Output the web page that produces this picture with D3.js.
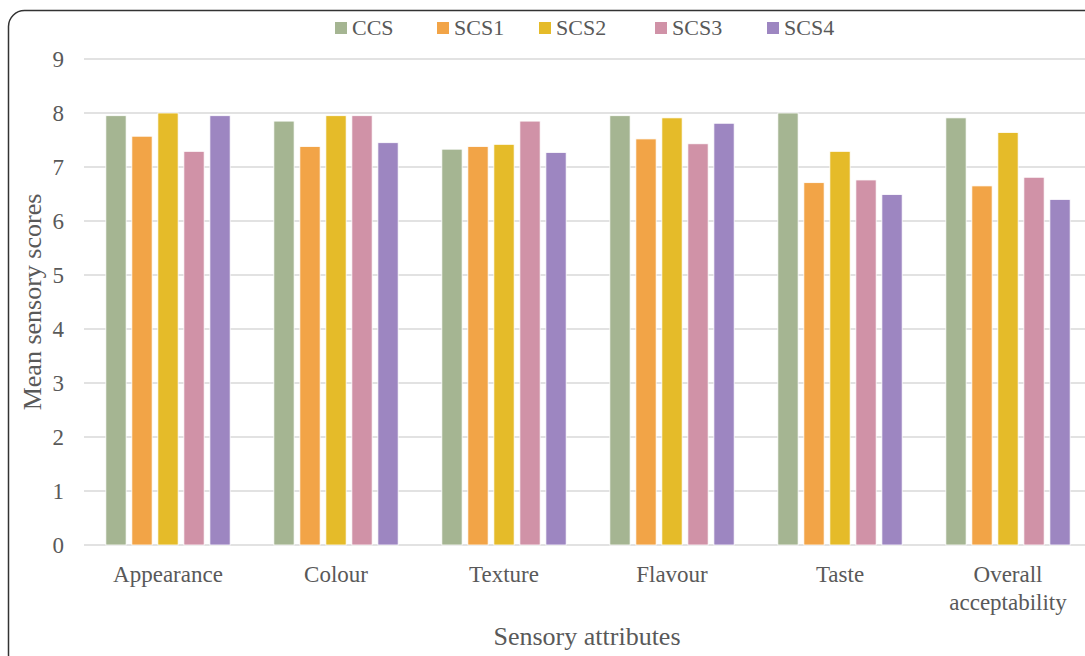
<!DOCTYPE html>
<html><head><meta charset="utf-8">
<script src="https://cdn.jsdelivr.net/npm/d3@7"></script>
<style>body{margin:0;background:#fff;}svg{display:block;} text{font-family:"Liberation Serif","Times New Roman",serif;}</style>
</head><body>
<svg id="c" width="1085" height="656"></svg>
<script>
const categories = ["Appearance","Colour","Texture","Flavour","Taste","Overall acceptability"];
const series = ["CCS","SCS1","SCS2","SCS3","SCS4"];
const CCS  = [7.95, 7.85, 7.33, 7.95, 8.00, 7.91];
const SCS1 = [7.57, 7.38, 7.38, 7.52, 6.71, 6.65];
const SCS2 = [8.00, 7.95, 7.42, 7.91, 7.29, 7.64];
const SCS3 = [7.29, 7.95, 7.85, 7.43, 6.76, 6.81];
const SCS4 = [7.95, 7.45, 7.27, 7.81, 6.49, 6.40];
const yTicks = [0,1,2,3,4,5,6,7,8,9];
const colors = ["#A5B592","#F2A447","#E5BB29","#D092A7","#9D86C1"];
const values = [CCS, SCS1, SCS2, SCS3, SCS4];

(function(){
const svg = d3.select("#c");
const pL = 84, pR = 1092, pT = 59, pB = 545;
const FONT = "Liberation Serif";
const TXT = "#595959";

svg.append("rect").attr("x",8.5).attr("y",10.5).attr("width",1120).attr("height",660)
  .attr("rx",16).attr("fill","#fff").attr("stroke","#333").attr("stroke-width",1.5);

const y = d3.scaleLinear().domain([0,9]).range([pB, pT]);
const x0 = d3.scaleBand().domain(categories).range([pL,pR]).paddingInner(0.26).paddingOuter(0.13);
const x1 = d3.scaleBand().domain(series).range([0,x0.bandwidth()]).paddingInner(0.22);

// gridlines
svg.append("g").selectAll("line").data(yTicks).join("line")
  .attr("x1",pL).attr("x2",pR).attr("y1",d=>y(d)).attr("y2",d=>y(d))
  .attr("stroke","#d9d9d9").attr("stroke-width",1.5);

// y axis labels
const yAxis = d3.axisLeft(y).tickValues(yTicks).tickSize(0).tickPadding(0).tickFormat(d3.format("d"));
const yg = svg.append("g").attr("transform",`translate(${pL-20},0)`).call(yAxis)
  .attr("font-family",FONT);
yg.select(".domain").remove();
yg.selectAll("text").attr("font-size",23).attr("fill",TXT).attr("font-family",FONT).attr("dy","0.33em");

// bars
const g = svg.append("g");
categories.forEach((c,i)=>{
  series.forEach((s,j)=>{
    g.append("rect")
      .attr("x", x0(c)+x1(s))
      .attr("y", y(values[j][i]))
      .attr("width", x1.bandwidth())
      .attr("height", y(0)-y(values[j][i]))
      .attr("fill", colors[j])
      .attr("stroke","#fff").attr("stroke-width",0.8);
  });
});

// x axis labels
categories.forEach(c=>{
  const words = c === "Overall acceptability" ? ["Overall","acceptability"] : [c];
  const cx = x0(c)+x0.bandwidth()/2;
  const t = svg.append("text").attr("x", cx).attr("y",582)
    .attr("text-anchor","middle").attr("font-size",23).attr("font-family",FONT).attr("fill",TXT);
  words.forEach((w,k)=>t.append("tspan").attr("x",cx).attr("dy",k?28:0).text(w));
});

// axis titles
svg.append("text").attr("x",587).attr("y",645).attr("text-anchor","middle")
  .attr("font-size",26).attr("font-family",FONT).attr("fill",TXT).text("Sensory attributes");
svg.append("text").attr("transform","translate(41,302) rotate(-90)").attr("text-anchor","middle")
  .attr("font-size",26).attr("font-family",FONT).attr("fill",TXT).text("Mean sensory scores");

// legend
const legX = [335,437,539,655,767];
const lg = svg.append("g");
series.forEach((s,j)=>{
  lg.append("rect").attr("x",legX[j]).attr("y",22).attr("width",12).attr("height",12).attr("fill",colors[j]);
  lg.append("text").attr("x",legX[j]+17).attr("y",35).attr("font-size",22).attr("font-family",FONT).attr("fill",TXT).text(s);
});
})();
</script>
</body></html>
